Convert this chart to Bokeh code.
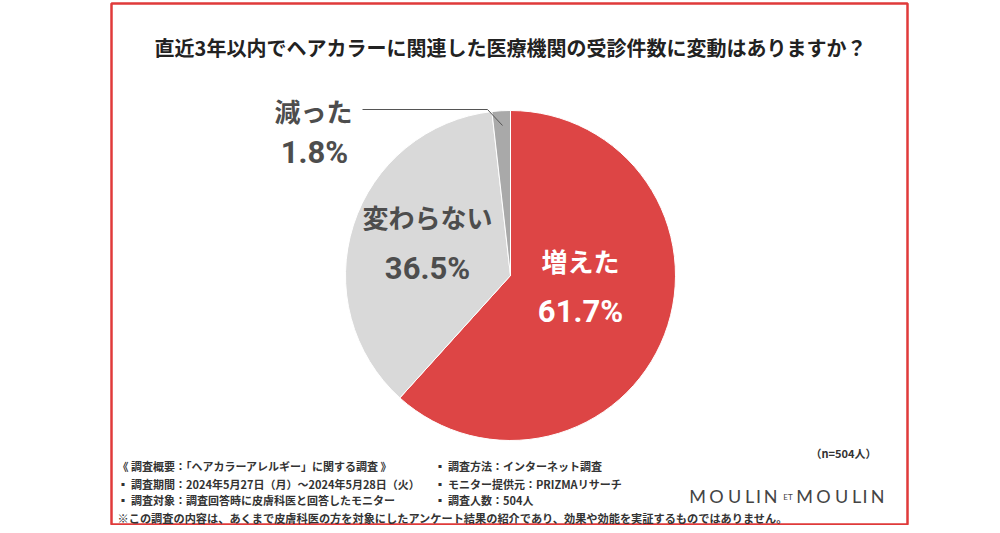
import math
from bokeh.plotting import figure
from bokeh.models import Range1d, ColumnDataSource
from bokeh.core.properties import value
from bokeh.embed import file_html
from bokeh.resources import INLINE

# ---- data ----
title = "直近3年以内でヘアカラーに関連した医療機関の受診件数に変動はありますか？"
categories = ["増えた", "変わらない", "減った"]
values = [61.7, 36.5, 1.8]
colors = ["#DD4545", "#D9D9D9", "#A9A9A9"]
label_colors = ["#FFFFFF", "#4D4D4D", "#4D4D4D"]
n_note = "（n=504人）"
notes_left = [
    "《 調査概要：「ヘアカラーアレルギー」に関する調査 》",
    "▪ 調査期間：2024年5月27日（月）～2024年5月28日（火）",
    "▪ 調査対象：調査回答時に皮膚科医と回答したモニター",
]
notes_right = [
    "▪ 調査方法：インターネット調査",
    "▪ モニター提供元：PRIZMAリサーチ",
    "▪ 調査人数：504人",
]
disclaimer = "※この調査の内容は、あくまで皮膚科医の方を対象にしたアンケート結果の紹介であり、効果や効能を実証するものではありません。"
logo_word = "MOULIN"
logo_mid = "ET"

H = 533
def Y(img_y):
    return H - img_y

FONT = value("Noto Sans CJK JP")

p = figure(width=992, height=525, x_range=Range1d(0, 992), y_range=Range1d(8, 533),
           output_backend="svg", toolbar_location=None, min_border=0)
p.axis.visible = False
p.grid.visible = False
p.outline_line_color = None
p.background_fill_color = "white"

# frame
p.quad(left=[111], right=[907], top=[Y(3)], bottom=[Y(524)], fill_color=None,
       line_color="#E03A3A", line_width=2.5)

# pie
total = sum(values)
starts, ends = [], []
cum = 0.0
for v in values:
    starts.append(math.pi / 2 - 2 * math.pi * cum / total)
    cum += v
    ends.append(math.pi / 2 - 2 * math.pi * cum / total)
cx, cy, r = 510, Y(275), 165
src = ColumnDataSource(dict(x=[cx] * 3, y=[cy] * 3, s=starts, e=ends, c=colors))
p.wedge(x="x", y="y", radius=r, start_angle="s", end_angle="e", direction="clock",
        fill_color="c", line_color="white", line_width=1, source=src)

# title
p.text(x=[510], y=[Y(47)], text=[title], text_font=FONT, text_font_style="bold",
       text_font_size="20px", text_color="#222222", text_align="center", text_baseline="middle")

# slice labels
name_pos = [(580, 260), (427, 216), (313, 110)]
pct_pos = [(580, 311), (427, 268), (314, 152)]
for i, cat in enumerate(categories):
    nx, ny = name_pos[i]
    px, py = pct_pos[i]
    p.text(x=[nx], y=[Y(ny)], text=[cat], text_font=FONT, text_font_style="bold",
           text_font_size="26px", text_color=label_colors[i], text_align="center",
           text_baseline="middle")
    p.text(x=[px], y=[Y(py)], text=[f"{values[i]}%"], text_font=value("Roboto"),
           text_font_style="bold", text_font_size="31px", text_color=label_colors[i],
           text_align="center", text_baseline="middle")

# leader line for small slice
p.line(x=[362, 487, 502], y=[Y(109), Y(109), Y(125)], line_color="#555555", line_width=1)

# notes
p.text(x=[876], y=[Y(452)], text=[n_note], text_font=FONT, text_font_style="bold",
       text_font_size="11px", text_color="#333333", text_align="right", text_baseline="middle")
ys = [465, 483, 499]
for i in range(3):
    p.text(x=[117], y=[Y(ys[i])], text=[notes_left[i]], text_font=FONT, text_font_style="bold",
           text_font_size="11px", text_color="#333333", text_align="left", text_baseline="middle")
    p.text(x=[434], y=[Y(ys[i])], text=[notes_right[i]], text_font=FONT, text_font_style="bold",
           text_font_size="11px", text_color="#333333", text_align="left", text_baseline="middle")
p.text(x=[117], y=[Y(517)], text=[disclaimer], text_font=FONT, text_font_style="bold",
       text_font_size="11.2px", text_color="#333333", text_align="left", text_baseline="middle")

# logo
letter_centers_1 = [697, 716, 734, 749, 758, 770]
letter_centers_2 = [804, 823, 841, 856, 864.5, 877]
for word_centers in (letter_centers_1, letter_centers_2):
    p.text(x=word_centers, y=[Y(495)] * 6, text=list(logo_word), text_font=value("Lato"),
           text_font_size="18px", text_color="#444444", text_align="center",
           text_baseline="middle")
p.text(x=[787.5], y=[Y(496)], text=[logo_mid], text_font=value("Lato"),
       text_font_size="8px", text_color="#444444", text_align="center", text_baseline="middle")

open("out.html", "w").write(file_html(p, INLINE))
